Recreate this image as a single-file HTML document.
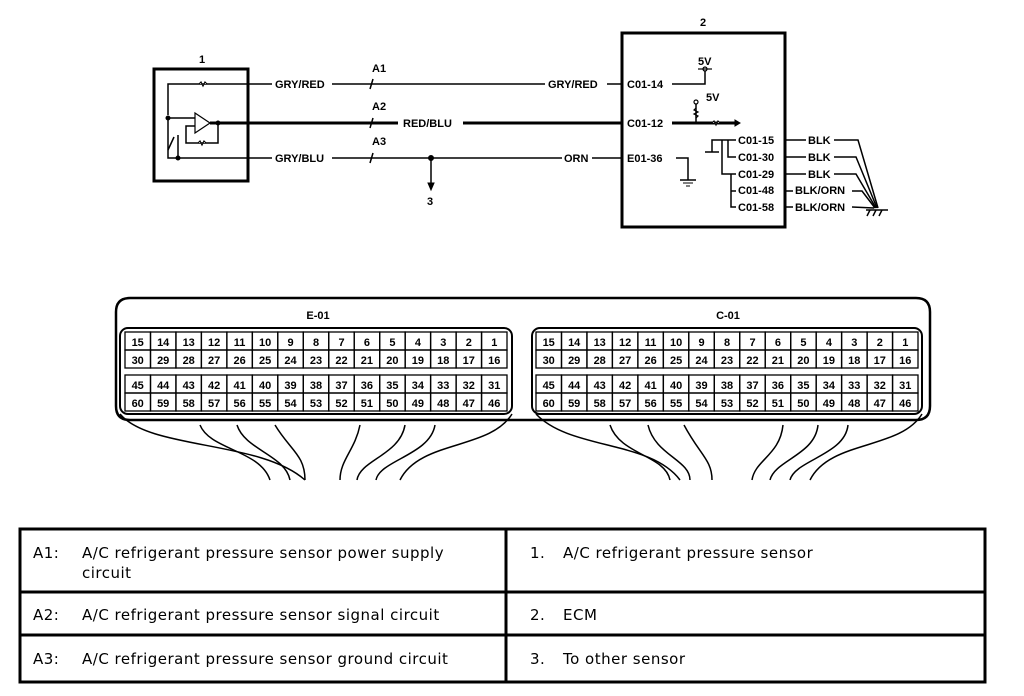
<!DOCTYPE html>
<html><head><meta charset="utf-8"><style>
html,body{margin:0;padding:0;background:#fff;}
svg{display:block;}
text{font-family:"Liberation Sans",sans-serif;}
.b{font-weight:bold;font-size:11px;}
text.t{font-family:"DejaVu Sans",sans-serif;font-size:15px;letter-spacing:0.5px;}
</style></head><body>
<svg id="s" width="1024" height="696" viewBox="0 0 1024 696" xmlns="http://www.w3.org/2000/svg" stroke="#000" fill="none">
<rect x="154" y="69" width="94" height="112" stroke-width="3"/>
<text x="202" y="63" class="b" fill="#000" stroke="none" text-anchor="middle">1</text>
<polyline points="168,115 168,84 248,84" stroke-width="1.5"/>
<path d="M199,84 l2,-2 l2,4 l2,-4 l2,2" stroke-width="1.2" fill="#fff"/>
<polyline points="168,118 168,158 248,158" stroke-width="1.5"/>
<line x1="168" y1="118" x2="195" y2="118" stroke-width="1.5"/>
<polygon points="195,113 195,133 210,123" stroke-width="1.2" fill="#fff"/>
<line x1="210" y1="123" x2="248" y2="123" stroke-width="3"/>
<polyline points="218,123 218,143 186,143 186,126 195,126" stroke-width="1.5"/>
<path d="M198,143 l2,-2 l2,4 l2,-4 l2,2" stroke-width="1.2" fill="#fff"/>
<line x1="178" y1="135" x2="178" y2="158" stroke-width="1.5"/>
<line x1="168" y1="150" x2="174" y2="137" stroke-width="1.5"/>
<circle cx="168" cy="118" r="2" fill="#000"/><circle cx="178" cy="158" r="2" fill="#000"/><circle cx="218" cy="123" r="2" fill="#000"/>
<line x1="248" y1="84" x2="272" y2="84" stroke-width="1.5"/>
<line x1="332" y1="84" x2="545" y2="84" stroke-width="1.5"/>
<line x1="607" y1="84" x2="622" y2="84" stroke-width="1.5"/>
<line x1="248" y1="123" x2="398" y2="123" stroke-width="3"/>
<line x1="463" y1="123" x2="622" y2="123" stroke-width="3"/>
<line x1="248" y1="158" x2="272" y2="158" stroke-width="1.5"/>
<line x1="332" y1="158" x2="562" y2="158" stroke-width="1.5"/>
<line x1="592" y1="158" x2="622" y2="158" stroke-width="1.5"/>
<line x1="370" y1="89" x2="373" y2="79" stroke-width="1.5"/>
<line x1="370" y1="128" x2="373" y2="118" stroke-width="1.5"/>
<line x1="370" y1="163" x2="373" y2="153" stroke-width="1.5"/>
<circle cx="431" cy="158" r="2.5" fill="#000"/>
<line x1="431" y1="158" x2="431" y2="186" stroke-width="1.5"/>
<polygon points="428,183 434,183 431,190" fill="#000"/>
<g fill="#000" stroke="none">
<text x="275" y="88" class="b">GRY/RED</text>
<text x="548" y="88" class="b">GRY/RED</text>
<text x="372" y="72" class="b">A1</text>
<text x="372" y="110" class="b">A2</text>
<text x="372" y="145" class="b">A3</text>
<text x="403" y="127" class="b">RED/BLU</text>
<text x="275" y="162" class="b">GRY/BLU</text>
<text x="564" y="162" class="b">ORN</text>
<text x="427" y="205" class="b">3</text>
</g>
<rect x="622" y="33" width="163" height="194" stroke-width="3"/>
<g fill="#000" stroke="none">
<text x="703" y="26" class="b" text-anchor="middle">2</text>
<text x="627" y="88" class="b">C01-14</text>
<text x="627" y="127" class="b">C01-12</text>
<text x="627" y="162" class="b">E01-36</text>
<text x="698" y="65" class="b">5V</text>
<text x="706" y="101" class="b">5V</text>
<text x="738" y="144" class="b">C01-15</text>
<text x="738" y="161" class="b">C01-30</text>
<text x="738" y="178" class="b">C01-29</text>
<text x="738" y="194" class="b">C01-48</text>
<text x="738" y="211" class="b">C01-58</text>
<text x="808" y="144" class="b">BLK</text>
<text x="808" y="161" class="b">BLK</text>
<text x="808" y="178" class="b">BLK</text>
<text x="795" y="194" class="b">BLK/ORN</text>
<text x="795" y="211" class="b">BLK/ORN</text>
</g>
<polyline points="672,84 705,84 705,71" stroke-width="1.5"/>
<circle cx="705" cy="69" r="2" fill="#fff" stroke-width="1.2"/>
<line x1="698" y1="69" x2="712" y2="69" stroke-width="1.2"/>
<line x1="672" y1="123" x2="735" y2="123" stroke-width="3"/>
<line x1="696" y1="123" x2="696" y2="104" stroke-width="1.5"/>
<path d="M696,108 l-2,2 l4,2 l-4,2 l4,2 l-2,2" stroke-width="1.2"/>
<circle cx="696" cy="102" r="2" fill="#fff" stroke-width="1.2"/>
<path d="M712,123 l2,-2 l2,4 l2,-4 l2,2" stroke-width="1.2" fill="#fff"/>
<polygon points="735,120 740,123 735,126" fill="#000"/>
<polyline points="676,158 688,158 688,180" stroke-width="1.5"/>
<line x1="680" y1="180" x2="696" y2="180" stroke-width="1.5"/><line x1="683" y1="183" x2="693" y2="183"/><line x1="686" y1="186" x2="690" y2="186"/>
<polyline points="712,152 712,140 736,140" stroke-width="1.5"/>
<line x1="705" y1="152" x2="719" y2="152" stroke-width="1.5"/>
<polyline points="728,140 728,157 736,157" stroke-width="1.5"/>
<polyline points="722,140 722,174 736,174" stroke-width="1.5"/>
<polyline points="731,174 731,207 736,207" stroke-width="1.5"/><line x1="731" y1="191" x2="736" y2="191" stroke-width="1.5"/>
<g stroke-width="1.5">
<line x1="784" y1="140" x2="806" y2="140"/><line x1="784" y1="157" x2="806" y2="157"/><line x1="784" y1="174" x2="806" y2="174"/><line x1="784" y1="191" x2="793" y2="191"/><line x1="784" y1="207" x2="793" y2="207"/>
<polyline points="834,140 858,140 878,208"/><polyline points="834,157 856,157 877,208"/><polyline points="834,174 856,174 876,208"/><polyline points="852,191 862,191 875,208"/><polyline points="852,207 874,208"/>
<line x1="866" y1="210" x2="888" y2="210"/><line x1="870" y1="210" x2="867" y2="216"/><line x1="876" y1="210" x2="873" y2="216"/><line x1="882" y1="210" x2="879" y2="216"/>
</g>
<path d="M116,312 Q116,298 130,298 L916,298 Q930,298 930,312 L930,406 Q930,420 916,420 L130,420 Q116,420 116,406 Z" stroke-width="2.5"/>
<rect x="120" y="328" width="392" height="86" rx="8" stroke-width="2"/>
<rect x="532" y="328" width="390" height="86" rx="8" stroke-width="2"/>
<text x="318" y="319" fill="#000" stroke="none" class="b" text-anchor="middle">E-01</text>
<text x="728" y="319" fill="#000" stroke="none" class="b" text-anchor="middle">C-01</text>
<g id="grid" stroke-width="1.3"></g>
<g stroke-width="1.5">
<path d="M120,414 C150,450 260,440 305,480"/><path d="M200,425 C210,450 260,450 270,480"/><path d="M237,425 C245,450 285,455 290,480"/>
<path d="M275,425 C290,450 305,455 305,480"/><path d="M360,425 C355,450 340,460 340,480"/><path d="M405,425 C400,455 360,460 357,480"/>
<path d="M435,425 C430,455 380,460 376,480"/><path d="M512,414 C490,450 420,440 400,480"/>
<path d="M536,414 C570,450 650,440 680,480"/><path d="M610,425 C620,455 665,455 670,480"/><path d="M648,425 C655,455 690,460 690,480"/>
<path d="M684,425 C700,455 712,460 712,480"/><path d="M783,425 C780,455 755,460 752,480"/><path d="M818,425 C815,455 775,460 770,480"/>
<path d="M848,425 C845,455 795,460 790,480"/><path d="M922,414 C900,450 830,440 810,480"/>
</g>
<rect x="20" y="529" width="965" height="153" stroke-width="3"/>
<line x1="506" y1="529" x2="506" y2="682" stroke-width="3"/>
<line x1="20" y1="592" x2="985" y2="592" stroke-width="3"/>
<line x1="20" y1="635" x2="985" y2="635" stroke-width="3"/>
<g fill="#000" stroke="none">
<text class="t" x="33" y="558">A1:</text><text class="t" x="82" y="558">A/C refrigerant pressure sensor power supply</text>
<text class="t" x="82" y="578">circuit</text>
<text class="t" x="33" y="620">A2:</text><text class="t" x="82" y="620">A/C refrigerant pressure sensor signal circuit</text>
<text class="t" x="33" y="664">A3:</text><text class="t" x="82" y="664">A/C refrigerant pressure sensor ground circuit</text>
<text class="t" x="530" y="558">1.</text><text class="t" x="563" y="558">A/C refrigerant pressure sensor</text>
<text class="t" x="530" y="620">2.</text><text class="t" x="563" y="620">ECM</text>
<text class="t" x="530" y="664">3.</text><text class="t" x="563" y="664">To other sensor</text>
</g>
</svg>
<script>
var g=document.getElementById('grid'),h='';
var rows=[[332,350,15],[350,368,30],[375,393,45],[393,411,60]];
[125,536].forEach(function(x0){
  var w=382/15;
  rows.forEach(function(r){
    for(var i=0;i<15;i++){
      var x=x0+i*w;
      h+='<rect x="'+x.toFixed(1)+'" y="'+r[0]+'" width="'+w.toFixed(1)+'" height="'+(r[1]-r[0])+'"/>';
      h+='<text x="'+(x+w/2).toFixed(1)+'" y="'+(r[1]-4)+'" text-anchor="middle" fill="#000" stroke="none" font-weight="bold" font-size="11">'+(r[2]-i)+'</text>';
    }
  });
});
g.innerHTML=h;
</script>
</body></html>
